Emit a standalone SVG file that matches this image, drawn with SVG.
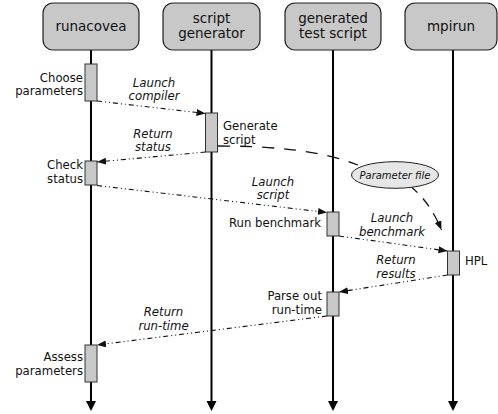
<svg xmlns="http://www.w3.org/2000/svg" width="498" height="414" viewBox="0 0 498 414">
<defs>
<style>
.hdr{fill:#c8c8c8;stroke:#222;stroke-width:1.2}
.life{stroke:#000;stroke-width:2;fill:none}
.act{fill:#c8c8c8;stroke:#333;stroke-width:1}
.ht{font-family:"DejaVu Sans",sans-serif;font-size:13.5px;fill:#111;text-anchor:middle}
.lt{font-family:"DejaVu Sans",sans-serif;font-size:11.7px;fill:#111}
.r{text-anchor:end}
.ml{font-family:"DejaVu Sans",sans-serif;font-size:11.7px;font-style:italic;fill:#111;text-anchor:middle}
.msg{stroke:#111;stroke-width:1.1;fill:none;stroke-dasharray:5 3 1 3 1 3;marker-end:url(#ah)}
.dash{stroke:#111;stroke-width:1.3;fill:none;stroke-dasharray:12 10}
</style>
<marker id="ah" markerUnits="userSpaceOnUse" markerWidth="10" markerHeight="8" refX="9" refY="3.5" orient="auto">
<path d="M0,0 L9,3.5 L0,7 z" fill="#111"/>
</marker>
<marker id="lh" markerUnits="userSpaceOnUse" markerWidth="12" markerHeight="12" refX="0" refY="5" orient="auto">
<path d="M0,0 L10,5 L0,10 z" fill="#000"/>
</marker>
</defs>

<g id="runacovea">
<line class="life" x1="91" y1="50" x2="91" y2="401" marker-end="url(#lh)"/>
<rect class="hdr" x="43" y="3" width="96" height="47" rx="10"/>
<text class="ht" x="91" y="31">runacovea</text>
<rect class="act" x="85" y="64" width="12" height="37"/>
<text class="lt r" x="83" y="81.5">Choose</text>
<text class="lt r" x="83" y="94.5">parameters</text>
<rect class="act" x="85" y="161" width="12" height="24"/>
<text class="lt r" x="83" y="169">Check</text>
<text class="lt r" x="83" y="183">status</text>
<rect class="act" x="85" y="345" width="12" height="37"/>
<text class="lt r" x="83" y="361">Assess</text>
<text class="lt r" x="83" y="375">parameters</text>
</g>

<g id="script-generator">
<line class="life" x1="211.5" y1="50" x2="211.5" y2="401" marker-end="url(#lh)"/>
<rect class="hdr" x="163" y="3" width="97" height="47" rx="10"/>
<text class="ht" x="211.5" y="23">script</text>
<text class="ht" x="211.5" y="37.5">generator</text>
<rect class="act" x="205.5" y="113" width="12" height="39"/>
<text class="lt" x="223" y="130">Generate</text>
<text class="lt" x="223" y="143.5">script</text>
</g>

<g id="generated-test-script">
<line class="life" x1="333" y1="50" x2="333" y2="401" marker-end="url(#lh)"/>
<rect class="hdr" x="285" y="3" width="96" height="47" rx="10"/>
<text class="ht" x="333" y="23">generated</text>
<text class="ht" x="333" y="37.5">test script</text>
<rect class="act" x="327" y="212" width="12" height="24"/>
<text class="lt r" x="321" y="226.5">Run benchmark</text>
<rect class="act" x="327" y="292" width="12" height="24"/>
<text class="lt r" x="322" y="299.5">Parse out</text>
<text class="lt r" x="322" y="313.5">run-time</text>
</g>

<g id="mpirun">
<line class="life" x1="453" y1="50" x2="453" y2="401" marker-end="url(#lh)"/>
<rect class="hdr" x="405" y="3" width="92" height="47" rx="10"/>
<text class="ht" x="451" y="31">mpirun</text>
<rect class="act" x="447.5" y="251" width="12" height="24"/>
<text class="lt" x="465" y="265">HPL</text>
</g>

<g id="connectors">
<line class="msg" x1="97" y1="101" x2="205.5" y2="113.5"/>
<line class="msg" x1="205.5" y1="152" x2="97" y2="162"/>
<line class="msg" x1="97" y1="185.5" x2="327" y2="212.5"/>
<line class="msg" x1="339" y1="236" x2="447.5" y2="251"/>
<line class="msg" x1="447.5" y1="275" x2="339" y2="292"/>
<line class="msg" x1="327" y1="316" x2="97" y2="345"/>
<path class="dash" d="M218,146 C270,146 320,150 358,165"/>
<path class="dash" d="M410,186 C424,197 434,212 441.5,230" marker-end="url(#ah)" style="stroke-dasharray:10 8"/>
</g>

<g id="parameter-file">
<ellipse cx="395" cy="175" rx="43.5" ry="13.3" fill="#e6e6e6" stroke="#222" stroke-width="1"/>
<text x="395" y="178.5" font-family="DejaVu Sans, sans-serif" font-size="10px" font-style="italic" fill="#111" text-anchor="middle">Parameter file</text>
</g>

<g id="labels">
<text class="ml" x="154" y="86.5">Launch</text>
<text class="ml" x="154" y="99.5">compiler</text>
<text class="ml" x="153" y="137.5">Return</text>
<text class="ml" x="153" y="151">status</text>
<text class="ml" x="273" y="185.5">Launch</text>
<text class="ml" x="273" y="198.5">script</text>
<text class="ml" x="392" y="222">Launch</text>
<text class="ml" x="392" y="236">benchmark</text>
<text class="ml" x="396" y="264">Return</text>
<text class="ml" x="396" y="278">results</text>
<text class="ml" x="163.5" y="316">Return</text>
<text class="ml" x="163.5" y="330">run-time</text>
</g>
</svg>
